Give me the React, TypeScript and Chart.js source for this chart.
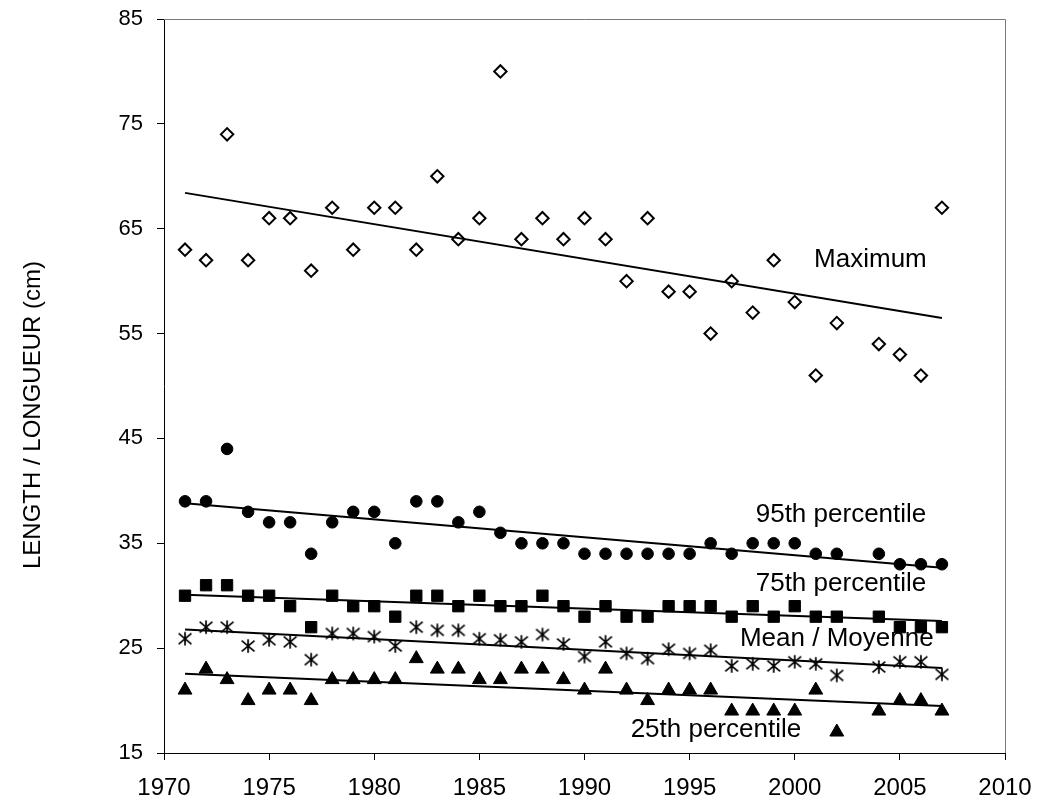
import React, { useEffect, useRef } from 'react';
import { Chart, registerables } from 'chart.js';

Chart.register(...registerables);

// Survey years (no sampling in 2003)
const years = [
  1971, 1972, 1973, 1974, 1975, 1976, 1977, 1978, 1979, 1980,
  1981, 1982, 1983, 1984, 1985, 1986, 1987, 1988, 1989, 1990,
  1991, 1992, 1993, 1994, 1995, 1996, 1997, 1998, 1999, 2000,
  2001, 2002, 2004, 2005, 2006, 2007,
];

// Length statistics (cm)
const maximum = [
  63, 62, 74, 62, 66, 66, 61, 67, 63, 67,
  67, 63, 70, 64, 66, 80, 64, 66, 64, 66,
  64, 60, 66, 59, 59, 55, 60, 57, 62, 58,
  51, 56, 54, 53, 51, 67,
];
const p95 = [
  39, 39, 44, 38, 37, 37, 34, 37, 38, 38,
  35, 39, 39, 37, 38, 36, 35, 35, 35, 34,
  34, 34, 34, 34, 34, 35, 34, 35, 35, 35,
  34, 34, 34, 33, 33, 33,
];
const p75 = [
  30, 31, 31, 30, 30, 29, 27, 30, 29, 29,
  28, 30, 30, 29, 30, 29, 29, 30, 29, 28,
  29, 28, 28, 29, 29, 29, 28, 29, 28, 29,
  28, 28, 28, 27, 27, 27,
];
const mean = [
  25.9, 27.0, 27.0, 25.2, 25.8, 25.6, 23.9, 26.4, 26.4, 26.1,
  25.2, 27.0, 26.7, 26.7, 25.9, 25.8, 25.6, 26.3, 25.4, 24.2,
  25.6, 24.5, 24.0, 24.9, 24.5, 24.8, 23.3, 23.5, 23.3, 23.7,
  23.5, 22.4, 23.2, 23.7, 23.7, 22.5,
];
const p25 = [
  21, 23, 22, 20, 21, 21, 20, 22, 22, 22,
  22, 24, 23, 23, 22, 22, 23, 23, 22, 21,
  23, 21, 20, 21, 21, 21, 19, 19, 19, 19,
  21, 17, 19, 20, 20, 19,
];

// Axis ticks
const xTicks = { min: 1970, max: 2010, step: 5 };
const yTicks = { min: 15, max: 85, step: 10 };

const yTitle = 'LENGTH / LONGUEUR (cm)';

// Series captions, anchored in data units
const captions = [
  { text: 'Maximum', x: 2003.6, y: 62.0 },
  { text: '95th percentile', x: 2002.2, y: 37.7 },
  { text: '75th percentile', x: 2002.2, y: 31.1 },
  { text: 'Mean / Moyenne', x: 2002.0, y: 25.9 },
  { text: '25th percentile', x: 1996.25, y: 17.2 },
];

const FONT = '"Liberation Sans", Arial, Helvetica, sans-serif';

function toPoints(xs: number[], ys: number[]) {
  return xs.map((x, i) => ({ x, y: ys[i] }));
}

// Least-squares trend line spanning the observed years
function trend(xs: number[], ys: number[]) {
  const n = xs.length;
  const mx = xs.reduce((a, b) => a + b, 0) / n;
  const my = ys.reduce((a, b) => a + b, 0) / n;
  let sxy = 0;
  let sxx = 0;
  for (let i = 0; i < n; i++) {
    sxy += (xs[i] - mx) * (ys[i] - my);
    sxx += (xs[i] - mx) * (xs[i] - mx);
  }
  const b = sxy / sxx;
  const a = my - b * mx;
  const x0 = xs[0];
  const x1 = xs[n - 1];
  return [
    { x: x0, y: a + b * x0 },
    { x: x1, y: a + b * x1 },
  ];
}

function makeAsterisk() {
  const c = document.createElement('canvas');
  c.width = 16;
  c.height = 16;
  const g = c.getContext('2d')!;
  g.strokeStyle = '#000';
  g.lineWidth = 1.7;
  g.beginPath();
  g.moveTo(8, 1.2);
  g.lineTo(8, 14.8);
  g.moveTo(1.6, 2.7);
  g.lineTo(14.4, 13.3);
  g.moveTo(14.4, 2.7);
  g.lineTo(1.6, 13.3);
  g.stroke();
  return c;
}

// keep the plot frame fixed regardless of tick label overhang
function fixBox(size: 'width' | 'height', value: number) {
  return (s: any) => {
    s[size] = value;
    s.paddingTop = 0;
    s.paddingBottom = 0;
    s.paddingLeft = 0;
    s.paddingRight = 0;
  };
}

const decorPlugin = {
  id: 'decor',
  afterDraw(chart: any) {
    const { ctx, chartArea, scales } = chart;
    const { left, right, top, bottom } = chartArea;
    ctx.save();
    // top and right frame
    ctx.strokeStyle = '#7a7a7a';
    ctx.lineWidth = 1;
    ctx.beginPath();
    ctx.moveTo(left, Math.round(top) + 0.5);
    ctx.lineTo(Math.round(right) + 0.5, Math.round(top) + 0.5);
    ctx.lineTo(Math.round(right) + 0.5, bottom);
    ctx.stroke();

    // series captions
    ctx.fillStyle = '#000';
    ctx.font = `26px ${FONT}`;
    ctx.textAlign = 'center';
    ctx.textBaseline = 'middle';
    for (const c of captions) {
      ctx.fillText(c.text, scales.x.getPixelForValue(c.x), scales.y.getPixelForValue(c.y));
    }

    // vertical axis title
    ctx.font = `24px ${FONT}`;
    ctx.translate(33, 415);
    ctx.rotate(-Math.PI / 2);
    ctx.fillText(yTitle, 0, 0);
    ctx.restore();
  },
};

export default function App() {
  const ref = useRef<HTMLCanvasElement | null>(null);

  useEffect(() => {
    if (!ref.current) return;
    const asterisk = makeAsterisk();
    const markerBase = {
      showLine: false,
      borderColor: '#000',
      backgroundColor: '#000',
      borderWidth: 1,
    };
    const trendBase = {
      showLine: true,
      borderColor: '#000',
      borderWidth: 2,
      pointRadius: 0,
      pointHoverRadius: 0,
      fill: false,
    };
    const chart = new Chart(ref.current, {
      type: 'scatter',
      data: {
        datasets: [
          {
            ...markerBase,
            label: 'Maximum',
            data: toPoints(years, maximum),
            pointStyle: 'rectRot',
            pointRadius: 6.2,
            borderWidth: 2,
            backgroundColor: 'rgba(0,0,0,0)',
          },
          {
            ...markerBase,
            label: '95th percentile',
            data: toPoints(years, p95),
            pointStyle: 'circle',
            pointRadius: 5.8,
          },
          {
            ...markerBase,
            label: '75th percentile',
            data: toPoints(years, p75),
            pointStyle: 'rect',
            pointRadius: 8,
          },
          {
            ...markerBase,
            label: 'Mean / Moyenne',
            data: toPoints(years, mean),
            pointStyle: asterisk,
            pointRadius: 8,
          },
          {
            ...markerBase,
            label: '25th percentile',
            data: toPoints(years, p25),
            pointStyle: 'triangle',
            pointRadius: 8,
          },
          { ...trendBase, label: 'Maximum trend', data: trend(years, maximum) },
          { ...trendBase, label: '95th trend', data: trend(years, p95) },
          { ...trendBase, label: '75th trend', data: trend(years, p75) },
          { ...trendBase, label: 'Mean trend', data: trend(years, mean) },
          { ...trendBase, label: '25th trend', data: trend(years, p25) },
        ],
      },
      options: {
        animation: false,
        responsive: false,
        events: [],
        layout: { padding: { top: 19, right: 32, left: 0, bottom: 0 } },
        plugins: {
          legend: { display: false },
          tooltip: { enabled: false },
        },
        scales: {
          x: {
            type: 'linear',
            min: xTicks.min,
            max: xTicks.max,
            afterFit: fixBox('height', 48),
            ticks: {
              stepSize: xTicks.step,
              color: '#000',
              padding: 14,
              maxRotation: 0,
              font: { family: FONT, size: 24 },
              callback: (v: any) => String(v),
            },
            grid: {
              drawOnChartArea: false,
              drawTicks: true,
              tickLength: 7,
              tickColor: '#000',
            },
            border: { display: true, color: '#000', width: 1 },
          },
          y: {
            type: 'linear',
            min: yTicks.min,
            max: yTicks.max,
            afterFit: fixBox('width', 164),
            ticks: {
              stepSize: yTicks.step,
              color: '#000',
              padding: 14,
              font: { family: FONT, size: 22 },
              callback: (v: any) => String(v),
            },
            grid: {
              drawOnChartArea: false,
              drawTicks: true,
              tickLength: 7,
              tickColor: '#000',
            },
            border: { display: true, color: '#000', width: 1 },
          },
        },
      },
      plugins: [decorPlugin],
    });
    return () => chart.destroy();
  }, []);

  return (
    <div style={{ position: 'absolute', left: 0, top: 0, width: 1037, height: 801, background: '#fff' }}>
      <canvas ref={ref} width={1037} height={801} style={{ width: 1037, height: 801, display: 'block' }} />
    </div>
  );
}
